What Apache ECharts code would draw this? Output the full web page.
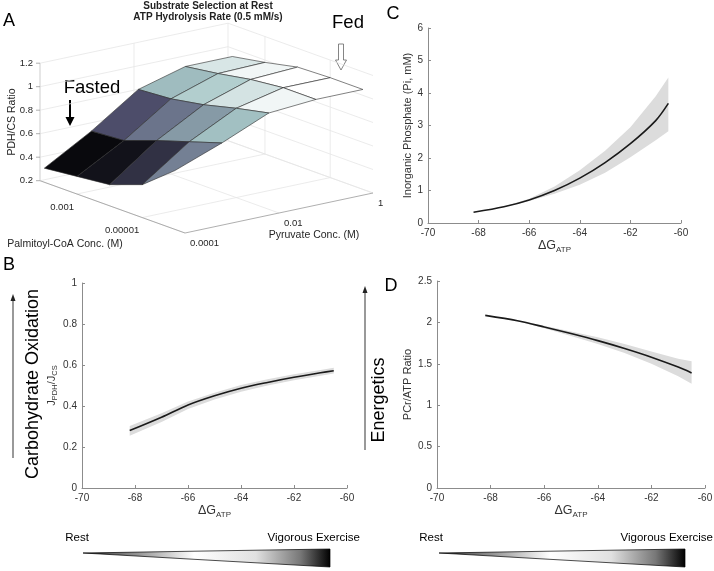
<!DOCTYPE html>
<html><head><meta charset="utf-8">
<script src="https://cdn.jsdelivr.net/npm/echarts@6/dist/echarts.min.js"></script>
<style>html,body{margin:0;padding:0;background:#fff}#c{width:714px;height:571px}</style>
</head><body><div id="c"></div><script>
const FONT = '"Liberation Sans", Arial, Helvetica, sans-serif';

// ---------- Panel A data ----------
const palmConc = [1e-2, 1e-3, 1e-4, 1e-5, 1e-6];
const pyrConc = [1e-4, 1e-3, 1e-2, 1e-1, 1];
const pdhcsRatio = [
  [0.32, 0.55, 0.82, 0.93, 0.93],
  [0.35, 0.57, 0.84, 0.97, 0.98],
  [0.38, 0.67, 0.89, 1.02, 1.04],
  [0.48, 0.76, 0.96, 1.05, 1.05],
  [0.70, 0.85, 1.02, 1.05, 1.05]
];
const zTicks = [0.2, 0.4, 0.6, 0.8, 1, 1.2];
const palmTicks = [1e-3, 1e-5];
const palmTickLabels = ['0.001', '0.00001'];
const pyrTicks = [1e-4, 1e-2, 1];
const pyrTickLabels = ['0.0001', '0.01', '1'];

// ---------- Panels B, C, D data ----------
const dG = [-68.2, -67, -66, -65, -64, -63, -62, -61, -60.5];
const jMean = [0.28, 0.345, 0.405, 0.45, 0.487, 0.515, 0.54, 0.562, 0.572];
const jLow  = [0.255, 0.322, 0.385, 0.432, 0.47, 0.5, 0.526, 0.548, 0.558];
const jHigh = [0.302, 0.365, 0.422, 0.465, 0.502, 0.53, 0.555, 0.576, 0.586];
const piMean = [0.33, 0.50, 0.71, 1.00, 1.38, 1.86, 2.44, 3.15, 3.68];
const piLow  = [0.33, 0.49, 0.68, 0.90, 1.18, 1.55, 2.02, 2.55, 2.82];
const piHigh = [0.33, 0.51, 0.75, 1.12, 1.62, 2.22, 2.95, 3.90, 4.48];
const pcrMean = [2.085, 2.02, 1.945, 1.865, 1.78, 1.685, 1.58, 1.46, 1.39];
const pcrLow  = [2.085, 2.015, 1.93, 1.835, 1.74, 1.63, 1.50, 1.35, 1.26];
const pcrHigh = [2.085, 2.025, 1.96, 1.89, 1.82, 1.74, 1.65, 1.56, 1.53];

// ---------- 3D view (layout) ----------
const VIEW = { palmLog: [-1.867, -6.311], pyrLog: [-4, 0], zLim: [0.2, 1.2],
               aVec: [145, 52.3], bVec: [188, -40], cLen: 117.5, origin: [40, 233] };
const VW = VIEW.aVec[0] + VIEW.bVec[0];
const VH = VIEW.aVec[1] - VIEW.bVec[1] + VIEW.cLen;
function palmFrac(v){ return (Math.log10(v) - VIEW.palmLog[0]) / (VIEW.palmLog[1] - VIEW.palmLog[0]); }
function pyrFrac(v){ return (Math.log10(v) - VIEW.pyrLog[0]) / (VIEW.pyrLog[1] - VIEW.pyrLog[0]); }
function zFrac(v){ return (v - VIEW.zLim[0]) / (VIEW.zLim[1] - VIEW.zLim[0]); }
function proj(a, b, c){
  return [(VIEW.aVec[0]*a + VIEW.bVec[0]*b) / VW,
          (VIEW.aVec[1]*(1-a) - VIEW.bVec[1]*b + VIEW.cLen*c) / VH];
}
const bone = ['#000000','#1c1c27','#38384d','#545474','#707a8f','#8ba1ab','#a7c7c7','#d3e3e3','#ffffff'];
const allZ = pdhcsRatio.flat();

const faces = [];
for (let i = 0; i < palmConc.length - 1; i++)
  for (let j = 0; j < pyrConc.length - 1; j++)
    faces.push([i, j, pdhcsRatio[i+1][j]]);
faces.sort((p, q) => (p[0] - p[1]) - (q[0] - q[1]));

function txt(x, y, s, align, va, size, extra){
  return Object.assign({type:'text', x:x, y:y, style:{text:s, fill:'#262626', fontSize:size, fontFamily:FONT, align:align, verticalAlign:va}}, extra||{});
}

const axesSeries = {
  type:'custom', coordinateSystem:'cartesian2d', xAxisIndex:0, yAxisIndex:0, z:1, silent:true,
  data:[[0,0]],
  renderItem(params, api){
    const P = (a,b,c) => api.coord(proj(a,b,c));
    const kids = [];
    const ln = (p,q,color,w) => kids.push({type:'line', shape:{x1:p[0],y1:p[1],x2:q[0],y2:q[1]}, style:{stroke:color, lineWidth:w}});
    const gc = '#e6e6e6', ac = '#9a9a9a';
    palmTicks.forEach(t => { const a = palmFrac(t); ln(P(a,0,0),P(a,1,0),gc,0.8); ln(P(a,1,0),P(a,1,1),gc,0.8); });
    pyrTicks.forEach(t => { const b = pyrFrac(t); ln(P(0,b,0),P(1,b,0),gc,0.8); ln(P(0,b,0),P(0,b,1),gc,0.8); });
    zTicks.forEach(t => { const c = zFrac(t); ln(P(0,0,c),P(0,1,c),gc,0.8); ln(P(0,1,c),P(1,1,c),gc,0.8); });
    ln(P(0,0,0),P(1,0,0),ac,0.8);
    ln(P(1,0,0),P(1,1,0),ac,0.8);
    ln(P(0,0,0),P(0,0,1),'#cfcfcf',0.8);
    zTicks.forEach(t => { const p = P(0,0,zFrac(t)); ln([p[0]-4,p[1]],[p[0],p[1]],ac,0.8);
      kids.push(txt(p[0]-7, p[1], String(t), 'right', 'middle', 9.5)); });
    palmTicks.forEach((t,k) => { const p = P(palmFrac(t),0,0);
      kids.push(txt(p[0]-3, p[1]+13, palmTickLabels[k], 'right', 'middle', 9.5)); });
    pyrTicks.forEach((t,k) => { const p = P(1,pyrFrac(t),0);
      kids.push(txt(p[0]+5, p[1]+10, pyrTickLabels[k], 'left', 'middle', 9.5)); });
    return {type:'group', children:kids};
  }
};

const surfaceSeries = {
  type:'custom', coordinateSystem:'cartesian2d', xAxisIndex:0, yAxisIndex:0, z:2, silent:true,
  dimensions:['palmIdx','pyrIdx','ratio'],
  data: faces,
  renderItem(params, api){
    const i = api.value(0), j = api.value(1);
    const pts = [[i,j],[i+1,j],[i+1,j+1],[i,j+1]].map(([p,q]) =>
      api.coord(proj(palmFrac(palmConc[p]), pyrFrac(pyrConc[q]), zFrac(pdhcsRatio[p][q]))));
    return {type:'polygon', shape:{points:pts}, style:{fill: api.visual('color'), stroke:'#2b2b2b', lineWidth:0.6}};
  }
};

function bandSeries(idx, mean, low, high){
  return [
    {type:'custom', coordinateSystem:'cartesian2d', xAxisIndex:idx, yAxisIndex:idx, silent:true, z:1,
     data: dG.map((x,k)=>[x, low[k], high[k]]),
     encode:{x:0, y:[1,2]},
     renderItem(params, api){
       if (params.dataIndex !== 0) return null;
       const up = dG.map((x,k)=>api.coord([x, high[k]]));
       const lo = dG.map((x,k)=>api.coord([x, low[k]])).reverse();
       return {type:'polygon', shape:{points: up.concat(lo)}, style:{fill:'#dcdcdc'}};
     }},
    {type:'line', xAxisIndex:idx, yAxisIndex:idx, data:dG.map((x,k)=>[x, mean[k]]), z:3,
     symbol:'none', showSymbol:false, lineStyle:{color:'#1a1a1a', width:1.6}, smooth:0.3, silent:true}
  ];
}

const axC = '#8c8c8c';
function xAx(idx){
  return {gridIndex:idx, type:'value', min:-70, max:-60, interval:2,
    axisLine:{lineStyle:{color:axC}}, axisTick:{inside:true, length:3, lineStyle:{color:axC}},
    axisLabel:{fontSize:10, color:'#333', fontFamily:FONT, margin:5}, splitLine:{show:false},
    name:'{d|ΔG}{s|ATP}', nameLocation:'middle', nameGap:13,
    nameTextStyle:{rich:{d:{fontSize:12.5, color:'#333', fontFamily:FONT}, s:{fontSize:8, color:'#333', fontFamily:FONT, padding:[8,0,0,0]}}}};
}
function yAx(idx, min, max, interval, name, gap, rich){
  return {gridIndex:idx, type:'value', min:min, max:max, interval:interval,
    axisLine:{show:true, lineStyle:{color:axC}}, axisTick:{show:true, inside:true, length:3, lineStyle:{color:axC}},
    axisLabel:{fontSize:10, color:'#333', fontFamily:FONT, margin:5}, splitLine:{show:false},
    name:name, nameLocation:'middle', nameGap:gap, nameRotate:90,
    nameTextStyle: rich ? {rich:rich} : {fontSize:11, color:'#333', fontFamily:FONT}};
}

const wedgeFill = {type:'linear', x:0, y:0, x2:1, y2:0, colorStops:[
  {offset:0, color:'#000'}, {offset:0.12, color:'#666'}, {offset:0.45, color:'#fff'},
  {offset:0.7, color:'#e0e0e0'}, {offset:0.88, color:'#777'}, {offset:1, color:'#000'}]};

function gtext(x, y, s, size, extra, style){
  return Object.assign({type:'text', x:x, y:y, style:Object.assign({text:s, fontSize:size, fontFamily:FONT, fill:'#000', align:'center', verticalAlign:'middle'}, style||{})}, extra||{});
}

const option = {
  animation:false,
  backgroundColor:'#fff',
  grid:[
    {left:VIEW.origin[0], top:VIEW.origin[1]-VH, width:VW, height:VH, outerBoundsMode:'none'},
    {left:82, top:283, width:265, height:205, outerBoundsMode:'none'},
    {left:428, top:28, width:253, height:195, outerBoundsMode:'none'},
    {left:437, top:281, width:268, height:207, outerBoundsMode:'none'}
  ],
  xAxis:[
    {gridIndex:0, type:'value', min:0, max:1, show:false},
    xAx(1), xAx(2), xAx(3)
  ],
  yAxis:[
    {gridIndex:0, type:'value', min:0, max:1, show:false},
    yAx(1, 0, 1, 0.2, '{j|J}{s|PDH}{j|/J}{s|CS}', 15,
        {j:{fontSize:11, color:'#333', fontFamily:FONT}, s:{fontSize:7.5, color:'#333', fontFamily:FONT, padding:[6,0,0,0]}}),
    yAx(2, 0, 6, 1, 'Inorganic Phosphate (Pi, mM)', 10),
    yAx(3, 0, 2.5, 0.5, 'PCr/ATP Ratio', 24)
  ],
  visualMap:[{show:false, type:'continuous', seriesIndex:1, dimension:2,
    min:Math.min(...allZ), max:Math.max(...allZ), inRange:{color:bone}}],
  series:[axesSeries, surfaceSeries]
    .concat(bandSeries(1, jMean, jLow, jHigh))
    .concat(bandSeries(2, piMean, piLow, piHigh))
    .concat(bandSeries(3, pcrMean, pcrLow, pcrHigh)),
  graphic:[
    gtext(9, 21, 'A', 18), gtext(9, 265, 'B', 18), gtext(393, 14, 'C', 18), gtext(391, 286, 'D', 18),
    gtext(208, 6, 'Substrate Selection at Rest', 10, null, {fontWeight:'bold', fill:'#222'}),
    gtext(208, 17, 'ATP Hydrolysis Rate (0.5 mM/s)', 10, null, {fontWeight:'bold', fill:'#222'}),
    gtext(92, 88, 'Fasted', 18.5), gtext(348, 23, 'Fed', 18.5),
    gtext(12, 122, 'PDH/CS Ratio', 10.5, {rotation:Math.PI/2}, {fill:'#262626'}),
    gtext(65, 244, 'Palmitoyl-CoA Conc. (M)', 10.5, null, {fill:'#262626'}),
    gtext(314, 235, 'Pyruvate Conc. (M)', 10.5, null, {fill:'#262626'}),
    {type:'polygon', shape:{points:[[69,100],[71,100],[71,117],[74.5,117],[70,126],[65.5,117],[69,117]]}, style:{fill:'#000'}},
    {type:'polygon', shape:{points:[[338.5,44],[343.5,44],[343.5,60],[346.5,60],[341,70],[335.5,60],[338.5,60]]}, style:{fill:'#fff', stroke:'#666', lineWidth:0.8}},
    gtext(33, 384, 'Carbohydrate Oxidation', 18, {rotation:Math.PI/2}),
    gtext(379, 400, 'Energetics', 18, {rotation:Math.PI/2}),
    {type:'line', shape:{x1:13, y1:458, x2:13, y2:300}, style:{stroke:'#555', lineWidth:1.2}},
    {type:'polygon', shape:{points:[[10.5,301],[15.5,301],[13,294]]}, style:{fill:'#222'}},
    {type:'line', shape:{x1:365, y1:450, x2:365, y2:292}, style:{stroke:'#555', lineWidth:1.2}},
    {type:'polygon', shape:{points:[[362.5,293],[367.5,293],[365,286]]}, style:{fill:'#222'}},
    gtext(77, 538, 'Rest', 11.5), gtext(360, 538, 'Vigorous Exercise', 11.5, null, {align:'right'}),
    gtext(431, 538, 'Rest', 11.5), gtext(713, 538, 'Vigorous Exercise', 11.5, null, {align:'right'}),
    {type:'polygon', shape:{points:[[83,553],[330,549],[330,567]]}, style:{fill:wedgeFill, stroke:'#000', lineWidth:0.7}},
    {type:'polygon', shape:{points:[[439,553],[685,549],[685,567]]}, style:{fill:wedgeFill, stroke:'#000', lineWidth:0.7}}
  ]
};

const chart = echarts.init(document.getElementById('c'), null, {renderer:'canvas'});
chart.setOption(option);
</script></body></html>
